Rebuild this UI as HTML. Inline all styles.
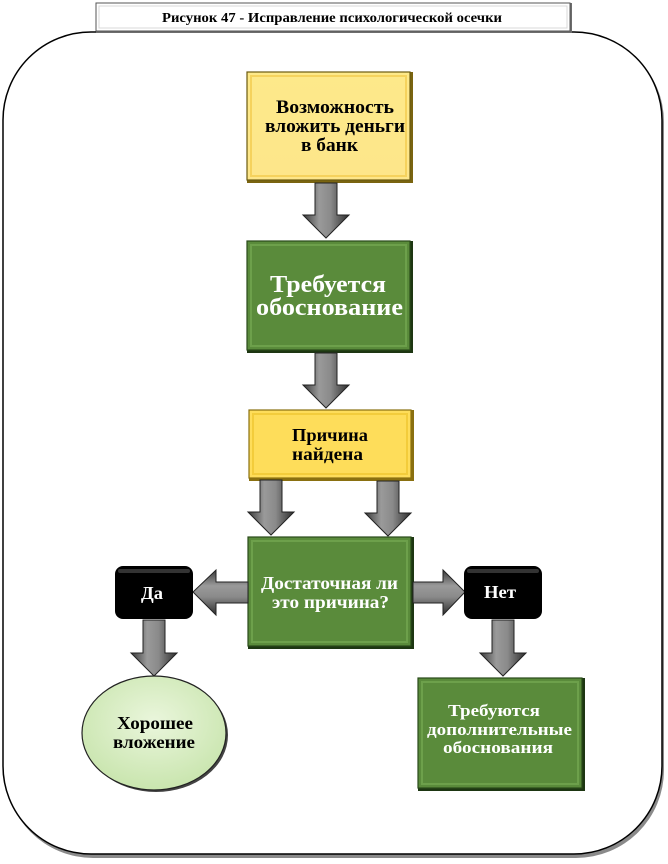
<!DOCTYPE html>
<html><head><meta charset="utf-8">
<style>
html,body{margin:0;padding:0;background:#fff;}
svg{display:block}
text{font-family:"Liberation Serif","DejaVu Serif",serif;font-weight:bold;text-anchor:start}
</style></head>
<body>
<svg width="668" height="864" viewBox="0 0 668 864" xmlns="http://www.w3.org/2000/svg">
<defs>
<linearGradient id="ag" x1="0" y1="0" x2="1" y2="0">
<stop offset="0" stop-color="#3a3a3a"/><stop offset="0.35" stop-color="#9a9a9a"/><stop offset="0.6" stop-color="#8a8a8a"/><stop offset="1" stop-color="#2e2e2e"/></linearGradient>
<linearGradient id="agv" x1="0" y1="0" x2="0" y2="1">
<stop offset="0" stop-color="#3a3a3a"/><stop offset="0.35" stop-color="#9a9a9a"/><stop offset="0.6" stop-color="#8a8a8a"/><stop offset="1" stop-color="#2e2e2e"/></linearGradient>
<linearGradient id="yel" x1="0" y1="0" x2="0" y2="1"><stop offset="0" stop-color="#fde98a"/><stop offset="1" stop-color="#fde68a"/></linearGradient>
<radialGradient id="ell" cx="0.5" cy="0.4" r="0.6"><stop offset="0" stop-color="#eaf6dc"/><stop offset="1" stop-color="#c9e5ae"/></radialGradient>
</defs>

<rect x="5" y="34" width="659" height="824" rx="88" fill="#8a8a8a"/>
<rect x="3" y="32" width="659" height="822" rx="88" fill="#fff" stroke="#000" stroke-width="1.5"/>

<rect x="96" y="3" width="476" height="30" fill="#6d6d6d"/>
<rect x="96" y="3" width="474" height="28" fill="#fff" stroke="#555" stroke-width="1"/>
<rect x="99" y="6" width="468" height="22" fill="#fff" stroke="#d8d8d8" stroke-width="1"/>
<text x="162" y="22" font-size="14" textLength="340" lengthAdjust="spacingAndGlyphs">Рисунок 47 - Исправление психологической осечки</text>

<rect x="247" y="72" width="166" height="111" fill="#7a6410"/>
<rect x="247" y="72" width="163" height="108" fill="url(#yel)" stroke="#6b5a10" stroke-width="1.2"/>
<rect x="251" y="76" width="155" height="100" fill="none" stroke="#f1c94a" stroke-width="2" opacity="0.7"/>
<text x="276" y="113" font-size="19" textLength="118" lengthAdjust="spacingAndGlyphs">Возможность</text>
<text x="265" y="132" font-size="19" textLength="140" lengthAdjust="spacingAndGlyphs">вложить деньги</text>
<text x="301" y="151" font-size="19" textLength="57" lengthAdjust="spacingAndGlyphs">в банк</text>

<path d="M315 183 H337 V215 H349 L326 238 L303 215 H315 Z" fill="url(#ag)" stroke="#222" stroke-width="1"/>

<rect x="247" y="241" width="166" height="112" fill="#1d3612"/>
<rect x="247" y="241" width="163" height="109" fill="#5a8b3b" stroke="#2a4a1a" stroke-width="1.2"/>
<rect x="251" y="245" width="155" height="101" fill="none" stroke="#6da04b" stroke-width="2"/>
<text x="270" y="292" font-size="24" fill="#fff" textLength="116" lengthAdjust="spacingAndGlyphs">Требуется</text>
<text x="256" y="315" font-size="24" fill="#fff" textLength="147" lengthAdjust="spacingAndGlyphs">обоснование</text>

<path d="M315 353 H337 V385 H349 L326 408 L303 385 H315 Z" fill="url(#ag)" stroke="#222" stroke-width="1"/>

<rect x="249" y="410" width="165" height="71" fill="#8a7010"/>
<rect x="249" y="410" width="162" height="68" fill="#fedd5a" stroke="#8a7010" stroke-width="1.2"/>
<rect x="253" y="414" width="154" height="60" fill="none" stroke="#f3cc3b" stroke-width="2"/>
<text x="292" y="441" font-size="18" textLength="76" lengthAdjust="spacingAndGlyphs">Причина</text>
<text x="292" y="460" font-size="18" textLength="71" lengthAdjust="spacingAndGlyphs">найдена</text>

<path d="M260 480 H282 V512 H294 L271 535 L248 512 H260 Z" fill="url(#ag)" stroke="#222" stroke-width="1"/>
<path d="M377 481 H399 V513 H411 L388 536 L365 513 H377 Z" fill="url(#ag)" stroke="#222" stroke-width="1"/>

<rect x="248" y="537" width="166" height="112" fill="#1d3612"/>
<rect x="248" y="537" width="163" height="109" fill="#5a8b3b" stroke="#2a4a1a" stroke-width="1.2"/>
<rect x="252" y="541" width="155" height="101" fill="none" stroke="#6da04b" stroke-width="2"/>
<text x="261" y="589" font-size="18" fill="#fff" textLength="137" lengthAdjust="spacingAndGlyphs">Достаточная ли</text>
<text x="272" y="608" font-size="18" fill="#fff" textLength="117" lengthAdjust="spacingAndGlyphs">это причина?</text>

<path d="M248 582 H216 V570 L193 592 L216 615 V603 H248 Z" fill="url(#agv)" stroke="#222" stroke-width="1"/>
<path d="M413 582 H443 V570 L465 592 L443 615 V603 H413 Z" fill="url(#agv)" stroke="#222" stroke-width="1"/>

<rect x="115" y="566" width="78" height="53" rx="8" fill="#000"/>
<rect x="118" y="569" width="72" height="4" rx="2" fill="#333"/>
<text x="141" y="599" font-size="18" fill="#fff" textLength="22" lengthAdjust="spacingAndGlyphs">Да</text>
<rect x="464" y="566" width="78" height="53" rx="8" fill="#000"/>
<rect x="467" y="569" width="72" height="4" rx="2" fill="#333"/>
<text x="484" y="598" font-size="18" fill="#fff" textLength="32" lengthAdjust="spacingAndGlyphs">Нет</text>

<path d="M143 620 H165 V653 H177 L154 676 L131 653 H143 Z" fill="url(#ag)" stroke="#222" stroke-width="1"/>
<path d="M492 620 H514 V653 H526 L503 676 L480 653 H492 Z" fill="url(#ag)" stroke="#222" stroke-width="1"/>

<ellipse cx="156" cy="735" rx="72" ry="57" fill="#444"/>
<ellipse cx="154" cy="733" rx="72" ry="57" fill="url(#ell)" stroke="#222" stroke-width="1.2"/>
<text x="117" y="729" font-size="18" textLength="76" lengthAdjust="spacingAndGlyphs">Хорошее</text>
<text x="113" y="748" font-size="18" textLength="82" lengthAdjust="spacingAndGlyphs">вложение</text>

<rect x="418" y="678" width="167" height="113" fill="#1d3612"/>
<rect x="418" y="678" width="164" height="110" fill="#5a8b3b" stroke="#2a4a1a" stroke-width="1.2"/>
<rect x="422" y="682" width="156" height="102" fill="none" stroke="#6da04b" stroke-width="2"/>
<text x="448" y="716" font-size="17" fill="#fff" textLength="92" lengthAdjust="spacingAndGlyphs">Требуются</text>
<text x="427" y="735" font-size="17" fill="#fff" textLength="145" lengthAdjust="spacingAndGlyphs">дополнительные</text>
<text x="443" y="753" font-size="17" fill="#fff" textLength="110" lengthAdjust="spacingAndGlyphs">обоснования</text>
</svg>
</body></html>
